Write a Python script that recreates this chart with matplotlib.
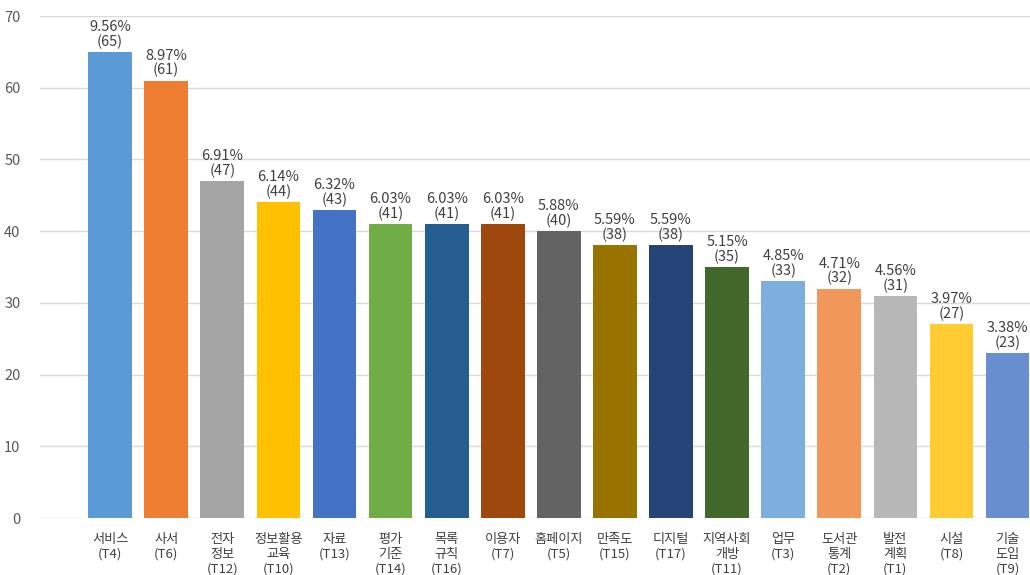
import matplotlib.pyplot as plt

plt.rcParams['font.family'] = ['Noto Sans CJK KR', 'DejaVu Sans']

labels = ['서비스\n(T4)', '사서\n(T6)', '전자\n정보\n(T12)', '정보활용\n교육\n(T10)', '자료\n(T13)',
          '평가\n기준\n(T14)', '목록\n규칙\n(T16)', '이용자\n(T7)', '홈페이지\n(T5)', '만족도\n(T15)',
          '디지털\n(T17)', '지역사회\n개방\n(T11)', '업무\n(T3)', '도서관\n통계\n(T2)', '발전\n계획\n(T1)',
          '시설\n(T8)', '기술\n도입\n(T9)']
counts = [65, 61, 47, 44, 43, 41, 41, 41, 40, 38, 38, 35, 33, 32, 31, 27, 23]
percents = [9.56, 8.97, 6.91, 6.14, 6.32, 6.03, 6.03, 6.03, 5.88, 5.59, 5.59, 5.15, 4.85, 4.71, 4.56, 3.97, 3.38]
colors = ['#5B9BD5', '#ED7D31', '#A5A5A5', '#FFC000', '#4472C4', '#70AD47', '#255E91', '#9E480E',
          '#636363', '#997300', '#264478', '#43682B', '#7CAFDD', '#F1975A', '#B7B7B7', '#FFCD33', '#698ED0']

fig = plt.figure(figsize=(10.3, 5.75), dpi=100)
ax = fig.add_axes([40 / 1030, 57 / 575, 990 / 1030, 502 / 575])

x = range(len(counts))
ax.bar(x, counts, width=0.78, color=colors, zorder=2)

for i, (c, p) in enumerate(zip(counts, percents)):
    ax.text(i, c + 0.4, f'{p:.2f}%\n({c})', ha='center', va='bottom',
            fontsize=10.5, color='#404040', linespacing=1.05)

ax.set_xlim(-1.25, 16.4)
ax.set_ylim(0, 70)
ax.set_yticks(range(0, 71, 10))
ax.yaxis.grid(True, color='#D9D9D9', linewidth=1, zorder=0)
ax.set_xticks(list(x))
ax.set_xticklabels(labels, fontsize=9.5, color='#404040', va='top', linespacing=1.15)
ax.tick_params(axis='both', length=0)
ax.tick_params(axis='y', labelsize=10.5, labelcolor='#595959', pad=14)
ax.tick_params(axis='x', pad=11)
for s in ax.spines.values():
    s.set_visible(False)

fig.savefig('out.png', dpi=100)
